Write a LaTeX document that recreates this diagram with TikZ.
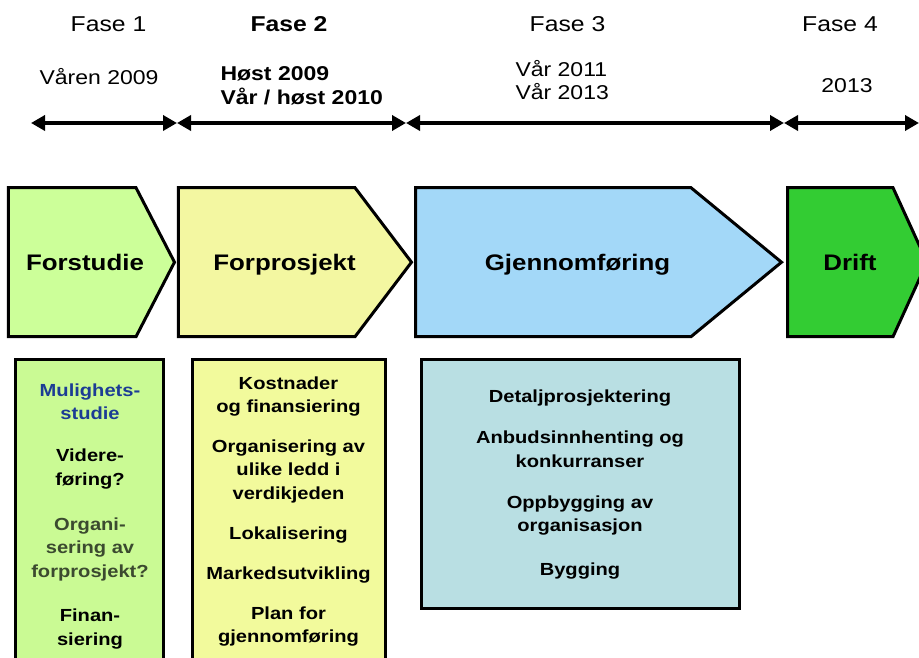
\documentclass[tikz,border=0pt]{standalone}
\usepackage{fontspec}
\setmainfont{Liberation Sans}[FakeStretch=1.15]
\usetikzlibrary{arrows.meta,calc}
\definecolor{forstudiegr}{RGB}{204,255,153}
\definecolor{boksgr}{RGB}{202,250,148}
\definecolor{forprosjgul}{RGB}{243,247,161}
\definecolor{boksgul}{RGB}{242,250,156}
\definecolor{gjennomblaa}{RGB}{163,216,248}
\definecolor{boksblaa}{RGB}{185,223,227}
\definecolor{driftgr}{RGB}{51,204,51}
\definecolor{mulblaa}{RGB}{28,60,148}
\definecolor{orggraa}{RGB}{59,74,47}

\begin{document}
\begin{tikzpicture}[x=1pt,y=-1pt,
		fase/.style={anchor=base,font=\fontsize{21.5}{26}\selectfont},
		periode/.style={align=left,font=\fontsize{20}{23.5}\selectfont},
		pil/.style={line width=4pt,>={Triangle[length=14pt,width=15pt]},<->},
		chev/.style={draw,line width=3pt,line join=miter},
		steg/.style={anchor=base,font=\bfseries\fontsize{22.5}{27}\selectfont},
		boks/.style={draw,line width=3pt},
		punkt/.style={align=center,font=\bfseries\fontsize{17.5}{23.5}\selectfont}]
		\useasboundingbox (0,0) rectangle (919,658);
		% tidslinje
		\node[fase] (fase1) at (108.5,31.5) {Fase 1};
		\node[fase] (fase2) at (289,31.5) {\bfseries Fase 2};
		\node[fase] (fase3) at (567.5,31.5) {Fase 3};
		\node[fase] (fase4) at (840,31.5) {Fase 4};
		\node[periode,anchor=base] (per1) at (99,85) {Våren 2009};
		\node[periode,anchor=west,font=\bfseries\fontsize{20}{23.5}\selectfont] (per2) at (217,86) {Høst 2009\\Vår / høst 2010};
		\node[periode,anchor=west] (per3) at (512,80) {Vår 2011\\Vår 2013};
		\node[periode,anchor=base] (per4) at (847,93) {2013};
		\coordinate (t0) at (31,123);
		\coordinate (t1) at (177,123);
		\coordinate (t2) at (406,123);
		\coordinate (t3) at (784,123);
		\coordinate (t4) at (919,123);
		\path (t0) edge[pil] (t1)
			(t1) edge[pil] (t2)
			(t2) edge[pil] (t3)
			(t3) edge[pil] (t4);
		\begin{scope}
			% fase 1
			\draw[chev,fill=forstudiegr] (8.3,187.7) -- (136,187.7) -- (174.5,262.2) -- (136,336.7) -- (8.3,336.7) -- cycle;
			\node[steg] (forstudie) at (85,270) {Forstudie};
			\draw[boks,fill=boksgr] (15.5,359) rectangle (163.5,680);
			\node[punkt,text=mulblaa] (mul) at (90,401.5) {Mulighets-\\studie};
			\node[punkt] (vid) at (90,469) {Videre-\\føring?};
			\node[punkt,text=orggraa] (org) at (90,549) {Organi-\\sering av\\forprosjekt?};
			\node[punkt] (fin) at (90,629) {Finan-\\siering};
		\end{scope}
		\begin{scope}
			% fase 2
			\draw[chev,fill=forprosjgul] (178.3,187.7) -- (355,187.7) -- (411.5,262.2) -- (355,336.7) -- (178.3,336.7) -- cycle;
			\node[steg] (forprosjekt) at (284.5,270) {Forprosjekt};
			\draw[boks,fill=boksgul] (192.5,359) rectangle (385,680);
			\node[punkt] (kost) at (288.5,396.5) {Kostnader\\og finansiering};
			\node[punkt] (ledd) at (288.5,471.3) {Organisering av\\ulike ledd i\\verdikjeden};
			\node[punkt] (lok) at (288.5,535) {Lokalisering};
			\node[punkt] (mark) at (288.5,575) {Markedsutvikling};
			\node[punkt] (plan) at (288.5,626.5) {Plan for\\gjennomføring};
		\end{scope}
		\begin{scope}
			% fase 3
			\draw[chev,fill=gjennomblaa] (415.7,187.7) -- (691,187.7) -- (781.5,262.2) -- (691,336.7) -- (415.7,336.7) -- cycle;
			\node[steg] (gjennom) at (577.5,270) {Gjennomføring};
			\draw[boks,fill=boksblaa] (421.5,359) rectangle (739,608.5);
			\node[punkt] (detalj) at (580,398) {Detaljprosjektering};
			\node[punkt] (anbud) at (580,449) {Anbudsinnhenting og\\konkurranser};
			\node[punkt] (oppb) at (580,515.5) {Oppbygging av\\organisasjon};
			\node[punkt] (bygg) at (580,571) {Bygging};
		\end{scope}
		\begin{scope}
			% fase 4
			\draw[chev,fill=driftgr] (787.7,187.7) -- (893,187.7) -- (927,262.2) -- (893,336.7) -- (787.7,336.7) -- cycle;
			\node[steg] (drift) at (850,270) {Drift};
		\end{scope}
	\end{tikzpicture}
\end{document}
